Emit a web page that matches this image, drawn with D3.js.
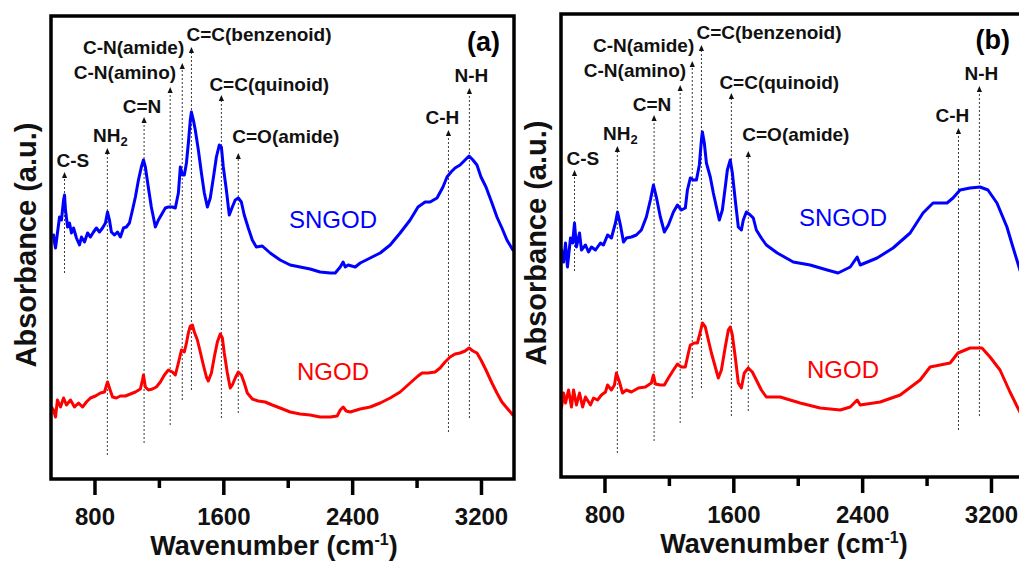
<!DOCTYPE html>
<html>
<head>
<meta charset="utf-8">
<script src="https://cdn.jsdelivr.net/npm/d3@7"></script>
<style>
  html, body { margin: 0; padding: 0; background: #fff; overflow: hidden; }
  svg { display: block; }
  text { font-family: "Liberation Sans", Arial, Helvetica, sans-serif; }
</style>
</head>
<body>
<svg id="chart" width="1019" height="563"></svg>
<script>
// FTIR spectra: [wavenumber (cm-1), absorbance (a.u.)]
const sngodA = [[546,1.225],[549,1.200],[558,1.160],[570,1.235],[583,1.315],[595,1.300],[608,1.400],[614,1.425],[620,1.350],[633,1.265],[645,1.285],[657,1.235],[670,1.260],[688,1.210],[707,1.175],[719,1.215],[738,1.190],[757,1.235],[775,1.215],[794,1.240],[812,1.260],[831,1.240],[850,1.260],[868,1.285],[881,1.340],[893,1.300],[905,1.240],[924,1.225],[943,1.240],[961,1.215],[980,1.260],[998,1.265],[1017,1.285],[1036,1.350],[1054,1.415],[1073,1.500],[1091,1.565],[1104,1.600],[1116,1.565],[1135,1.460],[1153,1.365],[1178,1.265],[1197,1.300],[1222,1.335],[1240,1.360],[1259,1.365],[1284,1.365],[1302,1.360],[1321,1.435],[1333,1.565],[1346,1.525],[1358,1.525],[1371,1.585],[1383,1.685],[1395,1.800],[1402,1.840],[1414,1.800],[1426,1.750],[1445,1.650],[1464,1.535],[1482,1.435],[1501,1.365],[1519,1.410],[1538,1.510],[1557,1.615],[1575,1.675],[1588,1.665],[1600,1.565],[1619,1.450],[1637,1.325],[1656,1.365],[1674,1.400],[1693,1.410],[1712,1.390],[1730,1.325],[1755,1.260],[1780,1.200],[1805,1.165],[1842,1.170],[1891,1.135],[1953,1.100],[2015,1.075],[2077,1.065],[2139,1.055],[2201,1.040],[2264,1.035],[2295,1.035],[2326,1.065],[2344,1.090],[2357,1.065],[2375,1.075],[2419,1.065],[2450,1.085],[2512,1.110],[2574,1.135],[2636,1.175],[2698,1.235],[2760,1.300],[2809,1.365],[2853,1.390],[2884,1.390],[2927,1.410],[2964,1.465],[2989,1.515],[3014,1.540],[3039,1.560],[3070,1.575],[3101,1.600],[3126,1.620],[3150,1.600],[3175,1.575],[3200,1.515],[3231,1.465],[3268,1.385],[3299,1.315],[3330,1.260],[3361,1.200],[3398,1.150]];

const ngodA = [[533,0.365],[546,0.350],[558,0.315],[570,0.400],[589,0.365],[608,0.410],[626,0.375],[651,0.400],[676,0.365],[701,0.385],[726,0.365],[750,0.390],[775,0.410],[806,0.420],[837,0.435],[862,0.440],[881,0.490],[893,0.460],[912,0.415],[936,0.410],[961,0.420],[992,0.420],[1023,0.430],[1054,0.440],[1085,0.455],[1098,0.500],[1104,0.525],[1116,0.465],[1135,0.450],[1160,0.455],[1184,0.465],[1209,0.490],[1234,0.525],[1259,0.550],[1284,0.540],[1302,0.525],[1321,0.585],[1340,0.650],[1358,0.640],[1371,0.685],[1383,0.735],[1395,0.770],[1408,0.775],[1420,0.740],[1439,0.700],[1457,0.640],[1476,0.575],[1495,0.515],[1507,0.495],[1526,0.535],[1544,0.615],[1563,0.690],[1581,0.730],[1594,0.710],[1606,0.635],[1625,0.535],[1643,0.460],[1656,0.475],[1674,0.510],[1693,0.540],[1712,0.525],[1730,0.485],[1749,0.435],[1780,0.405],[1817,0.395],[1860,0.390],[1904,0.375],[1953,0.360],[2015,0.340],[2077,0.330],[2139,0.325],[2201,0.315],[2264,0.315],[2307,0.320],[2326,0.350],[2344,0.365],[2363,0.345],[2388,0.340],[2450,0.355],[2512,0.365],[2574,0.385],[2636,0.410],[2698,0.440],[2760,0.485],[2809,0.520],[2834,0.535],[2871,0.535],[2915,0.540],[2946,0.560],[2977,0.590],[3008,0.615],[3039,0.630],[3070,0.635],[3101,0.645],[3126,0.660],[3150,0.645],[3175,0.635],[3200,0.600],[3231,0.550],[3268,0.485],[3299,0.435],[3330,0.390],[3361,0.360],[3398,0.325]];

const sngodB = [[533,1.140],[546,1.080],[558,1.175],[570,1.055],[589,1.200],[602,1.175],[614,1.275],[626,1.155],[645,1.225],[657,1.140],[682,1.165],[701,1.130],[719,1.155],[744,1.140],[775,1.175],[794,1.165],[819,1.215],[843,1.200],[868,1.275],[881,1.330],[899,1.265],[918,1.180],[936,1.200],[967,1.205],[998,1.215],[1029,1.240],[1060,1.305],[1085,1.390],[1104,1.465],[1122,1.405],[1147,1.305],[1172,1.230],[1197,1.265],[1228,1.330],[1253,1.365],[1277,1.340],[1302,1.350],[1315,1.440],[1333,1.500],[1352,1.490],[1371,1.490],[1389,1.565],[1402,1.690],[1408,1.730],[1420,1.675],[1433,1.575],[1457,1.505],[1476,1.425],[1495,1.355],[1513,1.290],[1532,1.340],[1550,1.455],[1563,1.540],[1581,1.590],[1594,1.525],[1612,1.390],[1631,1.255],[1650,1.240],[1662,1.290],[1681,1.330],[1705,1.315],[1724,1.300],[1743,1.240],[1774,1.200],[1805,1.165],[1873,1.125],[1972,1.080],[2077,1.065],[2183,1.040],[2251,1.025],[2326,1.055],[2369,1.105],[2388,1.065],[2493,1.100],[2592,1.150],[2698,1.225],[2778,1.325],[2840,1.375],[2927,1.375],[2964,1.400],[3008,1.440],[3070,1.450],[3132,1.455],[3181,1.440],[3237,1.375],[3299,1.255],[3336,1.155],[3374,1.055],[3405,0.975]];

const ngodB = [[533,0.350],[546,0.425],[558,0.375],[577,0.440],[595,0.355],[608,0.440],[626,0.365],[645,0.425],[664,0.355],[682,0.405],[713,0.365],[732,0.400],[757,0.390],[781,0.415],[806,0.430],[819,0.465],[843,0.440],[862,0.465],[874,0.525],[893,0.480],[912,0.425],[936,0.440],[967,0.430],[1011,0.450],[1054,0.455],[1091,0.475],[1104,0.515],[1116,0.470],[1147,0.465],[1172,0.465],[1197,0.500],[1228,0.540],[1253,0.570],[1277,0.555],[1302,0.555],[1321,0.625],[1333,0.665],[1358,0.675],[1377,0.675],[1395,0.730],[1408,0.775],[1426,0.755],[1445,0.690],[1464,0.625],[1488,0.555],[1507,0.500],[1526,0.540],[1550,0.655],[1569,0.740],[1581,0.755],[1594,0.715],[1612,0.605],[1631,0.475],[1650,0.450],[1668,0.525],[1693,0.550],[1718,0.530],[1743,0.490],[1774,0.440],[1805,0.405],[1891,0.405],[2015,0.375],[2139,0.350],[2264,0.340],[2326,0.355],[2369,0.390],[2388,0.365],[2512,0.380],[2636,0.415],[2760,0.490],[2822,0.555],[2946,0.575],[2995,0.625],[3070,0.650],[3144,0.650],[3194,0.605],[3256,0.540],[3318,0.430],[3367,0.350],[3405,0.290]];

// Band assignments (cm-1) and the vertical extent of each guide line (a.u.)
const bandNames     = ["C-S", "NH2", "C=N", "C-N(amino)", "C-N(amide)", "C=C(benzenoid)", "C=C(quinoid)", "C=O(amide)", "C-H", "N-H"];
const bandPositions = [614, 880, 1108, 1270, 1345, 1402, 1588, 1693, 2998, 3128];
const bandTops      = [1.540, 1.660, 1.815, 1.965, 2.085, 2.165, 1.925, 1.635, 1.750, 1.960];
const bandBottoms   = [1.035, 0.125, 0.185, 0.275, 0.400, 0.450, 0.310, 0.335, 0.240, 0.310];

const majorTicks = [800, 1600, 2400, 3200];
const minorTicks = [1200, 2000, 2800];

// Label placement for each band annotation: horizontal offset, anchor, gap above arrow
const bandLabelLayout = [
  { dx: -8, anchor: "start",  gap: 5 },
  { dx:  3, anchor: "middle", gap: 6 },
  { dx: -2, anchor: "middle", gap: 4 },
  { dx:  6, anchor: "end",    gap: 8 },
  { dx:  2, anchor: "end",    gap: 9 },
  { dx: -5, anchor: "start",  gap: 6 },
  { dx: -12, anchor: "start", gap: 4 },
  { dx: -6, anchor: "start",  gap: 10 },
  { dx: -6, anchor: "middle", gap: 6 },
  { dx:  2, anchor: "middle", gap: 6 }
];

const panels = [
  { tag: "(a)", upper: sngodA, lower: ngodA, shift: [0, 0] },
  { tag: "(b)", upper: sngodB, lower: ngodB, shift: [510, -2] }
];

const frame = { left: 51, right: 514, top: 16, bottom: 479 };
const x = d3.scaleLinear().domain([530, 3405]).range([frame.left, frame.right]);
const y = d3.scaleLinear().domain([0, 2.32]).range([480, 16]);

const svg = d3.select("#chart");
const line = d3.line().x(d => x(d[0])).y(d => y(d[1]));

panels.forEach((p, i) => {
  const g = svg.append("g").attr("transform", `translate(${p.shift[0]},${p.shift[1]})`);

  const clipId = "plot-clip-" + i;
  g.append("clipPath").attr("id", clipId)
    .append("rect")
    .attr("x", frame.left).attr("y", frame.top)
    .attr("width", frame.right - frame.left).attr("height", frame.bottom - frame.top);

  // dotted guide lines for the band assignments
  const bands = bandNames.map((name, k) => ({
    name, pos: bandPositions[k], top: bandTops[k], bottom: bandBottoms[k], layout: bandLabelLayout[k]
  }));

  const bg = g.append("g").attr("class", "bands");
  bg.selectAll("line").data(bands).join("line")
    .attr("x1", d => x(d.pos)).attr("x2", d => x(d.pos))
    .attr("y1", d => y(d.bottom)).attr("y2", d => y(d.top) + 5)
    .attr("stroke", "#3a3a3a").attr("stroke-width", 1)
    .attr("stroke-dasharray", "2,2");

  bg.selectAll("path").data(bands).join("path")
    .attr("d", d => {
      const cx = x(d.pos), ty = y(d.top);
      return `M${cx},${ty} L${cx - 2.6},${ty + 6} L${cx + 2.6},${ty + 6} Z`;
    })
    .attr("fill", "#111");

  const labels = bg.selectAll("text").data(bands).join("text")
    .attr("x", d => x(d.pos) + d.layout.dx)
    .attr("y", d => y(d.top) - d.layout.gap)
    .attr("text-anchor", d => d.layout.anchor)
    .attr("font-size", 19)
    .attr("font-weight", "bold")
    .attr("fill", "#111");

  labels.each(function (d) {
    const t = d3.select(this);
    if (d.name === "NH2") {
      t.append("tspan").text("NH");
      t.append("tspan").text("2").attr("font-size", 13).attr("dy", 4);
    } else {
      t.text(d.name);
    }
  });

  // spectra
  const curves = g.append("g").attr("clip-path", `url(#${clipId})`);
  curves.append("path").datum(p.upper)
    .attr("d", line).attr("fill", "none")
    .attr("stroke", "#0000ff").attr("stroke-width", 3)
    .attr("stroke-linejoin", "round").attr("stroke-linecap", "round");
  curves.append("path").datum(p.lower)
    .attr("d", line).attr("fill", "none")
    .attr("stroke", "#ff0000").attr("stroke-width", 3)
    .attr("stroke-linejoin", "round").attr("stroke-linecap", "round");

  // sample names
  g.append("text").text("SNGOD")
    .attr("x", x(2281)).attr("y", y(1.26))
    .attr("text-anchor", "middle").attr("font-size", 24).attr("fill", "#0000ff");
  g.append("text").text("NGOD")
    .attr("x", x(2281)).attr("y", y(0.50))
    .attr("text-anchor", "middle").attr("font-size", 24).attr("fill", "#ff0000");

  // panel tag
  g.append("text").text(p.tag)
    .attr("x", 500).attr("y", 51)
    .attr("text-anchor", "end").attr("font-size", 27).attr("font-weight", "bold");

  // frame
  g.append("rect")
    .attr("x", frame.left).attr("y", frame.top)
    .attr("width", frame.right - frame.left).attr("height", frame.bottom - frame.top)
    .attr("fill", "none").attr("stroke", "#000").attr("stroke-width", 3.5);

  // x axis: labelled major ticks and unlabelled minor ticks
  const gMajor = g.append("g").attr("transform", `translate(0,${frame.bottom})`)
    .call(d3.axisBottom(x).tickValues(majorTicks).tickSize(16).tickFormat(d3.format("d")));
  gMajor.select(".domain").remove();
  gMajor.selectAll(".tick line").attr("stroke", "#000").attr("stroke-width", 3.5);
  gMajor.selectAll(".tick text")
    .attr("y", 46).attr("dy", 0)
    .attr("font-size", 24).attr("font-weight", "bold")
    .attr("font-family", "Liberation Sans, Arial, sans-serif")
    .attr("fill", "#111");

  const gMinor = g.append("g").attr("transform", `translate(0,${frame.bottom})`)
    .call(d3.axisBottom(x).tickValues(minorTicks).tickSize(9).tickFormat(""));
  gMinor.select(".domain").remove();
  gMinor.selectAll(".tick line").attr("stroke", "#000").attr("stroke-width", 3.5);

  // axis titles
  const xt = g.append("text")
    .attr("x", 274).attr("y", 555)
    .attr("text-anchor", "middle").attr("font-size", 27).attr("font-weight", "bold")
    .attr("fill", "#111");
  xt.append("tspan").text("Wavenumber (cm");
  xt.append("tspan").text("-1").attr("font-size", 16).attr("dy", -10);
  xt.append("tspan").text(")").attr("dy", 10);

  g.append("text").text("Absorbance (a.u.)")
    .attr("transform", "translate(36,245) rotate(-90)")
    .attr("text-anchor", "middle").attr("font-size", 29).attr("font-weight", "bold")
    .attr("fill", "#111");
});
</script>
</body>
</html>
